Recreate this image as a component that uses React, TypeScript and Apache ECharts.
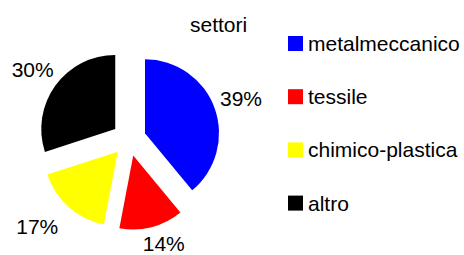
import React, { useEffect, useRef } from "react";
import * as echarts from "echarts";

const categories = ["metalmeccanico", "tessile", "chimico-plastica", "altro"];
const values = [39, 14, 17, 30];
const colors = ["#0000FF", "#FF0000", "#FFFF00", "#000000"];
const titleText = "settori";

// per-slice label placement tweaks (label-line length and text distance)
const labelLens = [28, 16.5, 25, 28];
const labelDists = [-21, -13, -6, -21];

export default function App() {
  const ref = useRef<HTMLDivElement>(null);
  useEffect(() => {
    document.body.style.margin = "0";
    const chart = echarts.init(ref.current!, null, { renderer: "svg" });
    const font = "Liberation Sans";
    chart.setOption({
      animation: false,
      backgroundColor: "#ffffff",
      title: {
        text: titleText,
        left: 190,
        top: 14,
        padding: 0,
        textStyle: { fontFamily: font, fontSize: 21, fontWeight: "normal", color: "#000" },
      },
      legend: {
        orient: "vertical",
        left: 288,
        top: 33,
        padding: 0,
        itemWidth: 15,
        itemHeight: 15,
        itemGap: 32.2,
        icon: "rect",
        selectedMode: false,
        data: categories,
        textStyle: { fontFamily: font, fontSize: 21, color: "#000" },
      },
      series: [
        {
          type: "pie",
          center: [129, 139],
          radius: 74,
          startAngle: 90,
          clockwise: true,
          selectedMode: "multiple",
          selectedOffset: 17,
          avoidLabelOverlap: false,
          emphasis: { disabled: true },
          label: {
            show: true,
            position: "outside",
            formatter: "{c}%",
            fontFamily: font,
            fontSize: 21,
            color: "#000",
            distanceToLabelLine: -21,
          },
          labelLine: { show: false, length: 28, length2: 0 },
          data: categories.map((name, i) => ({
            name,
            value: values[i],
            selected: true,
            itemStyle: { color: colors[i] },
            label: { distanceToLabelLine: labelDists[i] },
            labelLine: { show: false, length: labelLens[i], length2: 0 },
          })),
        },
      ],
    });
    return () => chart.dispose();
  }, []);
  return <div ref={ref} style={{ width: 464, height: 255 }} />;
}
